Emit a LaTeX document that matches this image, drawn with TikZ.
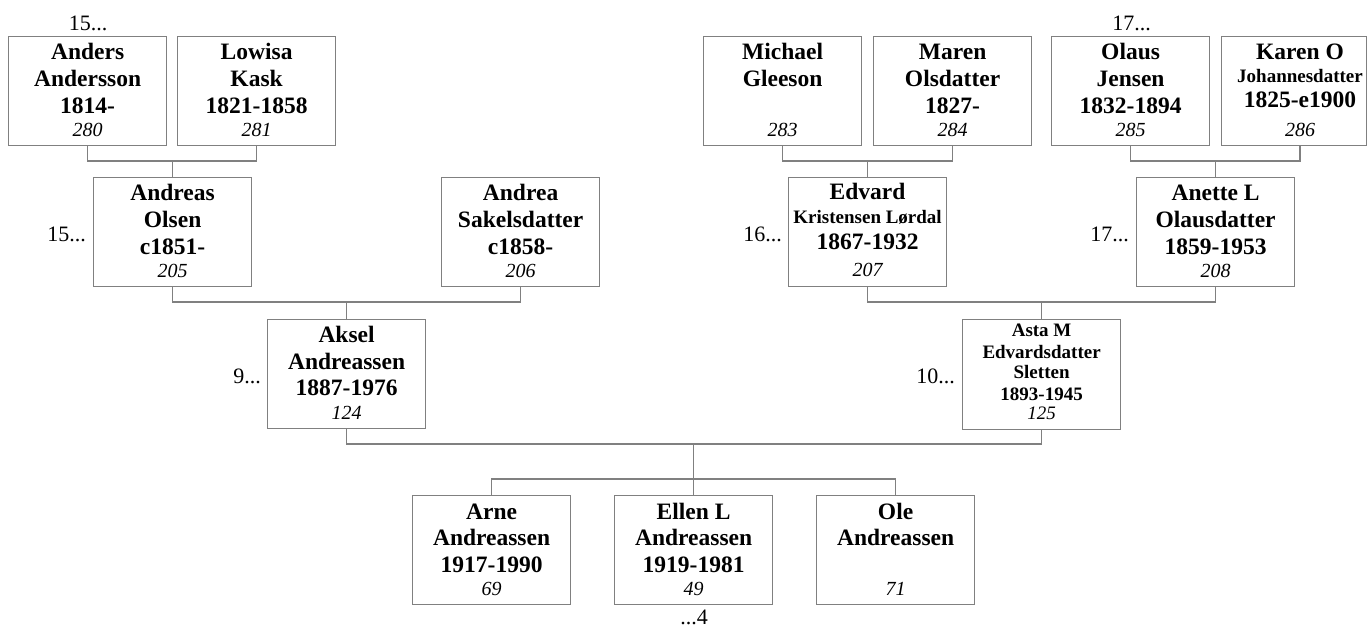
\documentclass[tikz,border=0pt]{standalone}
\usepackage{fontspec}
\setmainfont{Liberation Serif}
\usetikzlibrary{calc}
\definecolor{linegray}{RGB}{128,128,128}
\tikzset{
 pbox/.style={draw=linegray, line width=1.2pt, minimum width=158pt, minimum height=109pt, inner sep=0pt, anchor=north west},
 big/.style={font=\bfseries\fontsize{23.5}{26}\selectfont, anchor=base, inner sep=0pt},
 small/.style={font=\bfseries\fontsize{19}{21}\selectfont, anchor=base, inner sep=0pt},
 num/.style={font=\itshape\fontsize{20}{22}\selectfont, anchor=base, inner sep=0pt},
 snum/.style={font=\itshape\fontsize{19}{21}\selectfont, anchor=base, inner sep=0pt},
 lbl/.style={font=\fontsize{22}{24}\selectfont, inner sep=0pt},
 conn/.style={draw=linegray, line width=1.2pt},
}
\newcommand{\personline}[5]{\node[#1] (#2) at ($(#3)+(0,#4)$) {#5};}
\begin{document}
\begin{tikzpicture}[x=1pt,y=-1pt]
\fill[white] (0,0) rectangle (1367,628);
\useasboundingbox (0,0) rectangle (1367,628);

% ---------- boxes ----------
\node[pbox] (anders) at (8,36) {};
\node[pbox] (lowisa) at (177,36) {};
\node[pbox] (michael) at (703,36) {};
\node[pbox] (maren) at (873,36) {};
\node[pbox] (olaus) at (1051,36) {};
\node[pbox, minimum width=145pt] (karen) at (1221,36) {};
\coordinate (karen-t) at (1300,36);
\coordinate (karen-b) at (1300,145);

\node[pbox] (andreas) at (93,177) {};
\node[pbox] (andrea) at (441,177) {};
\node[pbox] (edvard) at (788,177) {};
\node[pbox] (anette) at (1136,177) {};

\node[pbox] (aksel) at (267,318.5) {};
\node[pbox, minimum height=110pt] (asta) at (962,318.5) {};

\node[pbox] (arne) at (412,495) {};
\node[pbox] (ellen) at (614,495) {};
\node[pbox] (ole) at (816,495) {};

% ---------- texts ----------
\personline{big}{anders-1}{anders.north}{24}{Anders}
\personline{big}{anders-2}{anders.north}{50.7}{Andersson}
\personline{big}{anders-3}{anders.north}{77.3}{1814-}
\personline{num}{anders-n}{anders.north}{100.7}{280}

\personline{big}{lowisa-1}{lowisa.north}{24}{Lowisa}
\personline{big}{lowisa-2}{lowisa.north}{50.7}{Kask}
\personline{big}{lowisa-3}{lowisa.north}{77.3}{1821-1858}
\personline{num}{lowisa-n}{lowisa.north}{100.7}{281}

\personline{big}{michael-1}{michael.north}{24}{Michael}
\personline{big}{michael-2}{michael.north}{50.7}{Gleeson}
\personline{num}{michael-n}{michael.north}{100.7}{283}

\personline{big}{maren-1}{maren.north}{24}{Maren}
\personline{big}{maren-2}{maren.north}{50.7}{Olsdatter}
\personline{big}{maren-3}{maren.north}{77.3}{1827-}
\personline{num}{maren-n}{maren.north}{100.7}{284}

\personline{big}{olaus-1}{olaus.north}{24}{Olaus}
\personline{big}{olaus-2}{olaus.north}{50.7}{Jensen}
\personline{big}{olaus-3}{olaus.north}{77.3}{1832-1894}
\personline{num}{olaus-n}{olaus.north}{100.7}{285}

\personline{big}{karen-1}{karen-t}{24}{Karen O}
\personline{small}{karen-2}{karen-t}{46.7}{Johannesdatter}
\personline{big}{karen-3}{karen-t}{71.3}{1825-e1900}
\personline{num}{karen-n}{karen-t}{100.3}{286}

\personline{big}{andreas-1}{andreas.north}{24}{Andreas}
\personline{big}{andreas-2}{andreas.north}{50.7}{Olsen}
\personline{big}{andreas-3}{andreas.north}{77.3}{c1851-}
\personline{num}{andreas-n}{andreas.north}{100.7}{205}

\personline{big}{andrea-1}{andrea.north}{24}{Andrea}
\personline{big}{andrea-2}{andrea.north}{50.7}{Sakelsdatter}
\personline{big}{andrea-3}{andrea.north}{77.3}{c1858-}
\personline{num}{andrea-n}{andrea.north}{100.7}{206}

\personline{big}{edvard-1}{edvard.north}{23}{Edvard}
\personline{small}{edvard-2}{edvard.north}{47}{Kristensen Lørdal}
\personline{big}{edvard-3}{edvard.north}{73}{1867-1932}
\personline{num}{edvard-n}{edvard.north}{99.7}{207}

\personline{big}{anette-1}{anette.north}{24}{Anette L}
\personline{big}{anette-2}{anette.north}{50.7}{Olausdatter}
\personline{big}{anette-3}{anette.north}{77.3}{1859-1953}
\personline{num}{anette-n}{anette.north}{100.7}{208}

\personline{big}{aksel-1}{aksel.north}{24}{Aksel}
\personline{big}{aksel-2}{aksel.north}{50.7}{Andreassen}
\personline{big}{aksel-3}{aksel.north}{77.3}{1887-1976}
\personline{num}{aksel-n}{aksel.north}{100.7}{124}

\personline{small}{asta-1}{asta.north}{17.7}{Asta M}
\personline{small}{asta-2}{asta.north}{40}{Edvardsdatter}
\personline{small}{asta-3}{asta.north}{60.4}{Sletten}
\personline{small}{asta-4}{asta.north}{82.4}{1893-1945}
\personline{snum}{asta-n}{asta.north}{100.7}{125}

\personline{big}{arne-1}{arne.north}{24}{Arne}
\personline{big}{arne-2}{arne.north}{50.7}{Andreassen}
\personline{big}{arne-3}{arne.north}{77.3}{1917-1990}
\personline{num}{arne-n}{arne.north}{100.7}{69}

\personline{big}{ellen-1}{ellen.north}{24}{Ellen L}
\personline{big}{ellen-2}{ellen.north}{50.7}{Andreassen}
\personline{big}{ellen-3}{ellen.north}{77.3}{1919-1981}
\personline{num}{ellen-n}{ellen.north}{100.7}{49}

\personline{big}{ole-1}{ole.north}{24}{Ole}
\personline{big}{ole-2}{ole.north}{50.7}{Andreassen}
\personline{num}{ole-n}{ole.north}{100.7}{71}

% ---------- generation labels ----------
\node[lbl, anchor=base] (g-anders) at (88,30.7) {15...};
\node[lbl, anchor=base] (g-olaus) at (1131.5,30.7) {17...};
\node[lbl, anchor=base east] (g-andreas) at (86,241.7) {15...};
\node[lbl, anchor=base east] (g-edvard) at (782,241.7) {16...};
\node[lbl, anchor=base east] (g-anette) at (1129,241.7) {17...};
\node[lbl, anchor=base east] (g-aksel) at (261,383.3) {9...};
\node[lbl, anchor=base east] (g-asta) at (955,383.3) {10...};
\node[lbl, anchor=base] (g-ellen) at (694,624) {...4};

% ---------- connectors ----------
\coordinate (barA) at (0,161);
\coordinate (barB) at (0,302);
\coordinate (barC) at (0,444);
\coordinate (barD) at (0,479);

\draw[conn] (anders.south) -- (anders.south |- barA) -| (lowisa.south);
\draw[conn] (andreas.north) -- (andreas.north |- barA);
\draw[conn] (michael.south) -- (michael.south |- barA) -| (maren.south);
\draw[conn] (edvard.north) -- (edvard.north |- barA);
\draw[conn] (olaus.south) -- (olaus.south |- barA) -| (karen-b);
\draw[conn] (anette.north) -- (anette.north |- barA);

\draw[conn] (andreas.south) -- (andreas.south |- barB) -| (andrea.south);
\draw[conn] (aksel.north) -- (aksel.north |- barB);
\draw[conn] (edvard.south) -- (edvard.south |- barB) -| (anette.south);
\draw[conn] (asta.north) -- (asta.north |- barB);

\draw[conn] (aksel.south) -- (aksel.south |- barC) -| (asta.south);
\draw[conn] (ellen.north |- barC) -- (ellen.north |- barD);
\draw[conn] (arne.north) -- (arne.north |- barD) -| (ole.north);
\draw[conn] (ellen.north |- barD) -- (ellen.north);
\end{tikzpicture}
\end{document}
